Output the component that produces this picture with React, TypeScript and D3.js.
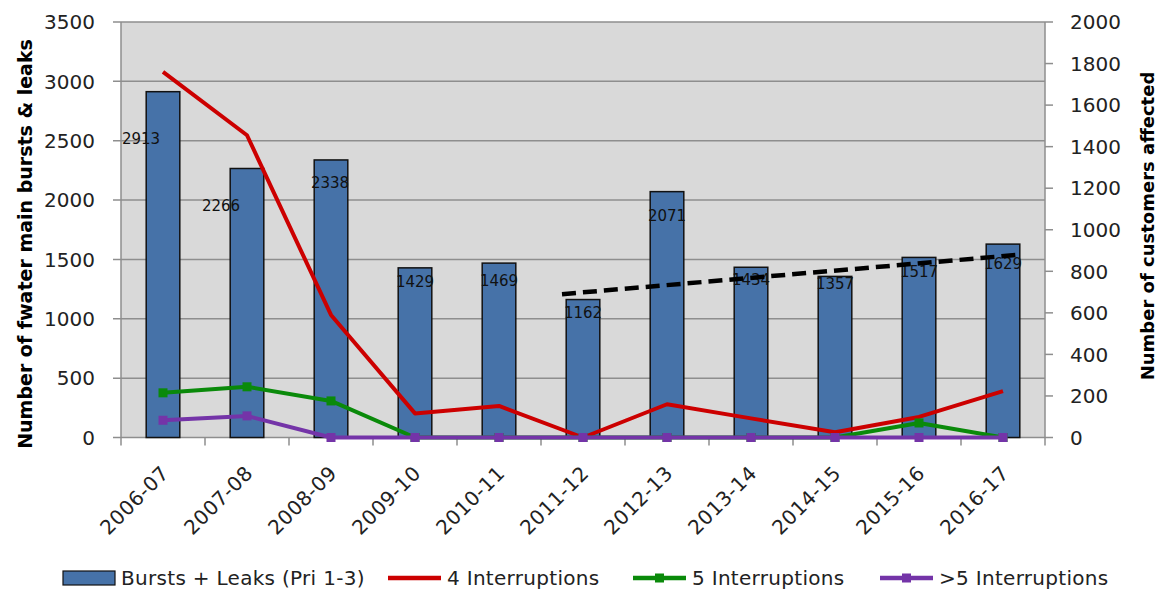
import React from "react";
import * as d3 from "d3";

const categories = ["2006-07", "2007-08", "2008-09", "2009-10", "2010-11", "2011-12", "2012-13", "2013-14", "2014-15", "2015-16", "2016-17"];
const burstsLeaks = [2913, 2266, 2338, 1429, 1469, 1162, 2071, 1434, 1357, 1517, 1629];
const interruptions4 = [1760, 1455, 590, 116, 152, 0, 160, 92, 25, 99, 223];
const interruptions5 = [215, 244, 176, 0, 0, 0, 0, 0, 0, 70, 0];
const interruptionsOver5 = [83, 104, 0, 0, 0, 0, 0, 0, 0, 0, 0];
const leftTicks = [0, 500, 1000, 1500, 2000, 2500, 3000, 3500];
const rightTicks = [0, 200, 400, 600, 800, 1000, 1200, 1400, 1600, 1800, 2000];
const trendIndex = [4.75, 10.2];
const trendValue = [690, 880];
const legendLabels = ["Bursts + Leaks (Pri 1-3)", "4 Interruptions", "5 Interruptions", ">5 Interruptions"];

// label nudges (px) for bar value labels, as in the source chart
const labelNudge: [number, number][] = [[-22, 47], [-26, 37], [-1, 23], [0, 14], [0, 17], [0, 13], [0, 24], [0, 12], [0, 7], [0, 14], [0, 19]];

const W = 1158, H = 590;
const M = { left: 121, right: 1045, top: 22, bottom: 437.5 };
const FONT = "'DejaVu Sans', Verdana, sans-serif";
const BAR = "#4672A8", RED = "#CC0000", GREEN = "#0A8A0A", PURPLE = "#7434A8", GRID = "#8E8E8E";

export default function App() {
  const xc = (i: number) => M.left + (M.right - M.left) / categories.length * (i + 0.5);
  const yL = d3.scaleLinear().domain([0, 3500]).range([M.bottom, M.top]);
  const yR = d3.scaleLinear().domain([0, 2000]).range([M.bottom, M.top]);
  const step = (M.right - M.left) / categories.length;
  const bw = step * 0.4;

  const line = d3.line<number>().x((_, i) => xc(i)).y((d) => yR(d));
  const trendX = d3.scaleLinear().domain([-0.5, categories.length - 0.5]).range([M.left, M.right]);

  const legendY = 578;
  const legendItems = [
    { x: 63, textX: 121, kind: "bar", color: BAR },
    { x: 388, textX: 447, kind: "line", color: RED },
    { x: 633, textX: 692, kind: "marker", color: GREEN },
    { x: 880, textX: 939, kind: "marker", color: PURPLE },
  ];

  return (
    <svg width={W} height={H} style={{ position: "absolute", left: 0, top: 0, background: "#fff" }} fontFamily={FONT}>
      <rect x={M.left} y={M.top} width={M.right - M.left} height={M.bottom - M.top} fill="#D9D9D9" />
      {leftTicks.map((t) => (
        <g key={"lt" + t}>
          <line x1={M.left - 8} x2={M.right} y1={yL(t)} y2={yL(t)} stroke={GRID} strokeWidth={1.5} />
          <text x={95} y={yL(t)} dy="0.36em" textAnchor="end" fontSize={20} fill="#222">{t}</text>
        </g>
      ))}
      <line x1={M.left} x2={M.left} y1={M.top} y2={M.bottom} stroke={GRID} strokeWidth={1.5} />
      <line x1={M.right} x2={M.right} y1={M.top} y2={M.bottom} stroke={GRID} strokeWidth={1.5} />
      {rightTicks.map((t) => (
        <g key={"rt" + t}>
          <line x1={M.right} x2={M.right + 8} y1={yR(t)} y2={yR(t)} stroke={GRID} strokeWidth={1.5} />
          <text x={1070} y={yR(t)} dy="0.36em" textAnchor="start" fontSize={20} fill="#222">{t}</text>
        </g>
      ))}
      {d3.range(categories.length + 1).map((i) => (
        <line key={"xt" + i} x1={M.left + step * i} x2={M.left + step * i} y1={M.bottom} y2={M.bottom + 8} stroke={GRID} strokeWidth={1.5} />
      ))}
      {burstsLeaks.map((v, i) => (
        <rect key={"b" + i} x={xc(i) - bw / 2} y={yL(v)} width={bw} height={M.bottom - yL(v)} fill={BAR} stroke="#111" strokeWidth={1.5} />
      ))}
      {burstsLeaks.map((v, i) => (
        <text key={"bl" + i} x={xc(i) + labelNudge[i][0]} y={yL(v) + labelNudge[i][1]} dy="0.36em" textAnchor="middle" fontSize={15} fill="#111">{v}</text>
      ))}
      <path d={line(interruptions4) || ""} fill="none" stroke={RED} strokeWidth={4} strokeLinejoin="round" />
      <path d={line(interruptions5) || ""} fill="none" stroke={GREEN} strokeWidth={4} strokeLinejoin="round" />
      {interruptions5.map((v, i) => (
        <rect key={"gm" + i} x={xc(i) - 4.5} y={yR(v) - 4.5} width={9} height={9} fill={GREEN} />
      ))}
      <path d={line(interruptionsOver5) || ""} fill="none" stroke={PURPLE} strokeWidth={4} strokeLinejoin="round" />
      {interruptionsOver5.map((v, i) => (
        <rect key={"pm" + i} x={xc(i) - 4.5} y={yR(v) - 4.5} width={9} height={9} fill={PURPLE} />
      ))}
      <line x1={trendX(trendIndex[0])} y1={yR(trendValue[0])} x2={trendX(trendIndex[1])} y2={yR(trendValue[1])} stroke="#000" strokeWidth={4.5} strokeDasharray="14 7" />
      {categories.map((c, i) => (
        <text key={"c" + i} transform={`translate(${xc(i) + 7},${M.bottom + 37}) rotate(-45)`} textAnchor="end" fontSize={20} letterSpacing={0.5} fill="#222">{c}</text>
      ))}
      <text transform={`translate(32,244) rotate(-90)`} textAnchor="middle" fontSize={19} fontWeight="bold" fill="#000">Number of fwater main bursts &amp; leaks</text>
      <text transform={`translate(1154,226) rotate(-90)`} textAnchor="middle" fontSize={18} fontWeight="bold" fill="#000">Number of customers affected</text>
      {legendItems.map((it, i) => (
        <g key={"lg" + i}>
          {it.kind === "bar" ? (
            <rect x={it.x} y={legendY - 7} width={52} height={14} fill={it.color} stroke="#111" strokeWidth={1.2} />
          ) : (
            <g>
              <line x1={it.x} x2={it.x + 53} y1={legendY} y2={legendY} stroke={it.color} strokeWidth={4.5} />
              {it.kind === "marker" && <rect x={it.x + 22} y={legendY - 4.5} width={9} height={9} fill={it.color} />}
            </g>
          )}
          <text x={it.textX} y={legendY} dy="0.36em" fontSize={20} letterSpacing={0.3} fill="#222">{legendLabels[i]}</text>
        </g>
      ))}
    </svg>
  );
}
